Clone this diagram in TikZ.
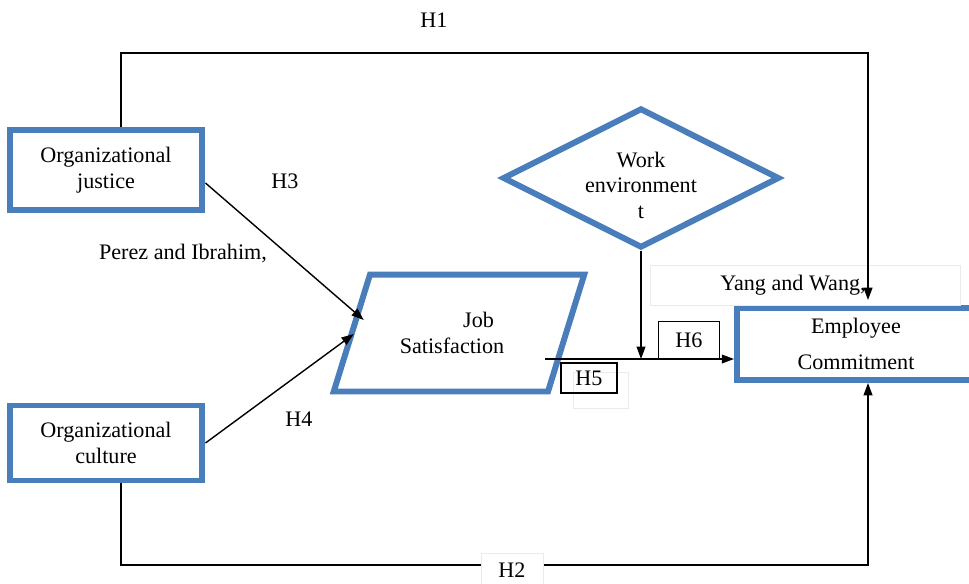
\documentclass[tikz,border=0pt]{standalone}
\usepackage{fontspec}
\setmainfont{Liberation Serif}
\usetikzlibrary{arrows.meta,shapes.geometric}
\definecolor{boxblue}{RGB}{74,126,187}
\tikzset{
        every node/.style={font=\fontsize{12.6}{14.5}\selectfont},
        blue frame/.style={draw=boxblue, line width=3.4pt, align=center, inner sep=2pt},
        link/.style={line width=0.8pt, -{Triangle[length=7pt,width=5pt]}},
        hbox/.style={draw, line width=0.7pt, inner sep=0pt},
        ghost/.style={draw=black!8, line width=0.5pt}
    }

\begin{document}
\begin{tikzpicture}[x=0.02cm, y=-0.02cm]
\useasboundingbox (0,0) rectangle (969,584);
% the five variables
\node[blue frame, minimum width=3.86cm, minimum height=1.6cm] (just) at (106,170) {Organizational\\justice};
\node[blue frame, minimum width=3.86cm, minimum height=1.5cm] (cult) at (106,443) {Organizational\\culture};
\node[blue frame, trapezium, trapezium stretches=true,
      trapezium left angle=62, trapezium right angle=118,
      minimum width=5.04cm, minimum height=2.34cm] (job) at (459,333)
      {\hspace*{2.4em}Job\hspace*{0.28cm}\\Satisfaction\hspace*{0.28cm}};
\node[blue frame, diamond, aspect=2, minimum width=5.54cm, minimum height=2.8cm] (work) at (641,178) {};
\node[align=center] (worktext) at ([yshift=-0.14cm]work.center) {Work\\environment\\t};
\node[blue frame, minimum width=4.76cm, minimum height=1.44cm] (emp) at (856,344) {Employee\\[6pt]Commitment};

% faint text boxes
\node[ghost, minimum width=6.2cm, minimum height=0.8cm] (yang) at (805,285) {\hspace*{-0.48cm}Yang and Wang,};
\draw[ghost] (573,372) rectangle (628,408);

\coordinate (topright) at (868,53);
\coordinate (botright) at (868,565);
\coordinate (jobout) at (545,359);

% H1, H2: the long paths round the outside
\draw[link] ([xshift=.3cm]just.north) |- (topright) -- ([yshift=.1cm]emp.north -| topright);
\draw[link] ([xshift=.3cm]cult.south) |- (botright) -- (emp.south -| botright);
% H3, H4
\draw[link] ([yshift=-.26cm]just.east) -- ([shift={(.3cm,.26cm)}]job.west);
\draw[link] (cult.east) -- ([shift={(.1cm,-.02cm)}]job.west);
% H5, H6
\draw[link] (jobout) -- (jobout -| emp.west);
\draw[link] (work.south) -- (work.south |- jobout);

\node[hbox, minimum width=1.12cm, minimum height=0.6cm] (h5) at (589,378) {H5};
\node[hbox, minimum width=1.22cm, minimum height=0.74cm] (h6) at (689,340) {H6};
\node[ghost, fill=white, minimum width=1.24cm, minimum height=0.66cm] (h2) at (512,570) {H2};

% hypothesis labels
\node (h1) at (434,20) {H1};
\node (h3) at (285,181) {H3};
\node (h4) at (299,419) {H4};
\node (perez) at (183,254) {Perez and Ibrahim,};
\end{tikzpicture}
\end{document}
